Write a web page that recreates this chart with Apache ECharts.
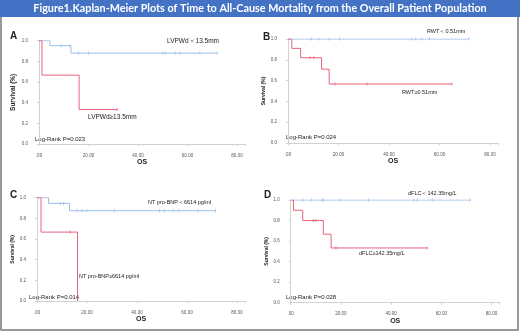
<!DOCTYPE html>
<html>
<head>
<meta charset="utf-8">
<script src="https://cdn.jsdelivr.net/npm/echarts@6/dist/echarts.min.js"></script>
<style>
html, body { margin: 0; padding: 0; background: #fff; }
#main { width: 520px; height: 335px; }
</style>
</head>
<body>
<div id="main"></div>
<script>
// 数据
var titleText = 'Figure1.Kaplan-Meier Plots of Time to All-Cause Mortality from the Overall Patient Population';
var xTicks = [0, 20, 40, 60, 80];
var yTicks = [0, 0.2, 0.4, 0.6, 0.8, 1.0];

// A: LVPWd
var aLowTime = [0, 4.4, 12.9, 72];
var aLowSurv = [1, 0.952, 0.88, 0.88];
var aLowCens = [9, 12.5, 16, 20, 50, 51, 55, 57, 65, 72];
var aHighTime = [0, 1.2, 16.2, 31.6];
var aHighSurv = [1, 0.667, 0.333, 0.333];
var aHighCens = [31.6];

// B: RWT
var bLowTime = [0, 71.7];
var bLowSurv = [1, 1];
var bLowCens = [9.2, 12.2, 16.2, 20.4, 49, 50.6, 53, 56, 71.7];
var bHighTime = [0, 1.5, 5.0, 13.3, 16.3, 64.9];
var bHighSurv = [1, 0.91, 0.82, 0.71, 0.567, 0.567];
var bHighCens = [8.7, 10.2, 18.6, 31.3, 64.9];

// C: NT pro-BNP
var cLowTime = [0, 4.6, 13, 71.4];
var cLowSurv = [1, 0.945, 0.874, 0.874];
var cLowCens = [9.3, 10.6, 16, 18, 20, 31, 49, 51, 54.5, 56.7, 64.4, 71.4];
var cHighTime = [0, 1.6, 16.2];
var cHighSurv = [1, 0.667, 0];
var cHighCens = [13.3];

// D: dFLC
var dLowTime = [0, 71.5];
var dLowSurv = [1, 1];
var dLowCens = [4.8, 8.4, 12.4, 13, 19.7, 31, 49, 50.4, 56.4, 71.5];
var dHighTime = [0, 1.1, 4.8, 13, 16.1, 54.4];
var dHighSurv = [1, 0.9, 0.8, 0.667, 0.533, 0.533];
var dHighCens = [9, 10, 18, 54.4];

var BLUE = '#9cbdea', RED = '#e4647e', AXIS = '#d2d2d2', TXT = '#222';
var FONT = 'Liberation Sans';

// 生存函数查找（删失点的纵坐标）
function survAt(times, surv, t) {
    var s = surv[0];
    for (var i = 0; i < times.length; i++) {
        if (times[i] <= t) s = surv[i];
    }
    return s;
}
function pairs(times, surv) {
    return times.map(function (t, i) { return [t, surv[i]]; });
}
function censPts(times, surv, cens) {
    return cens.map(function (t) { return [t, survAt(times, surv, t)]; });
}

// 四个面板的布局
var panels = [
    { grid: { left: 39, top: 40.7, width: 206, height: 103.3 }, perUnit: 2.475,
      low: [aLowTime, aLowSurv, aLowCens], high: [aHighTime, aHighSurv, aHighCens], nameFont: 6.5 },
    { grid: { left: 288, top: 39, width: 210, height: 104 }, perUnit: 2.525,
      low: [bLowTime, bLowSurv, bLowCens], high: [bHighTime, bHighSurv, bHighCens], nameFont: 5 },
    { grid: { left: 37, top: 197.7, width: 208, height: 103.3 }, perUnit: 2.5,
      low: [cLowTime, cLowSurv, cLowCens], high: [cHighTime, cHighSurv, cHighCens], nameFont: 5 },
    { grid: { left: 290.7, top: 200, width: 209, height: 102.7 }, perUnit: 2.51,
      low: [dLowTime, dLowSurv, dLowCens], high: [dHighTime, dHighSurv, dHighCens], nameFont: 5 }
];

var grids = [], xAxes = [], yAxes = [], series = [];
panels.forEach(function (p, i) {
    grids.push(p.grid);
    xAxes.push({
        gridIndex: i, type: 'value', min: 0, max: p.grid.width / p.perUnit, interval: 20,
        offset: 6,
        name: 'OS', nameLocation: 'middle', nameGap: 9,
        nameTextStyle: { fontFamily: FONT, fontWeight: 'bold', fontSize: 7, color: TXT },
        axisLine: { show: true, lineStyle: { color: AXIS, width: 1 } },
        axisTick: { show: true, length: 2, lineStyle: { color: AXIS } },
        axisLabel: { fontFamily: FONT, fontSize: 4.5, color: '#555', margin: 3,
            formatter: function (v) { return xTicks.indexOf(v) < 0 ? '' : (v === 0 ? '.00' : v.toFixed(2)); } },
        splitLine: { show: false }
    });
    yAxes.push({
        gridIndex: i, type: 'value', min: 0, max: 1, interval: 0.2,
        offset: 8,
        name: 'Survival (%)', nameLocation: 'middle', nameGap: 14,
        nameTextStyle: { fontFamily: FONT, fontWeight: 'bold', fontSize: p.nameFont, color: TXT },
        axisLine: { show: true, lineStyle: { color: AXIS, width: 1 } },
        axisTick: { show: true, length: 2, lineStyle: { color: AXIS } },
        axisLabel: { fontFamily: FONT, fontSize: 4.5, color: '#555', margin: 3,
            formatter: function (v) { return v.toFixed(1); } },
        splitLine: { show: false }
    });
    [['low', BLUE], ['high', RED]].forEach(function (g) {
        var d = p[g[0]];
        series.push({
            type: 'line', xAxisIndex: i, yAxisIndex: i, step: 'end',
            data: pairs(d[0], d[1]), symbol: 'none', silent: true,
            lineStyle: { color: g[1], width: 1 }
        });
        series.push({
            type: 'scatter', xAxisIndex: i, yAxisIndex: i,
            data: censPts(d[0], d[1], d[2]), symbol: 'rect', symbolSize: [1, 3],
            itemStyle: { color: g[1] }, silent: true
        });
    });
});

// 文字标注
function txt(x, y, s, size, bold) {
    return { type: 'text', left: x, top: y - size * 0.6, silent: true,
        style: { text: s, fontFamily: FONT, fontSize: size, fontWeight: bold ? 'bold' : 'normal', fill: TXT } };
}
var graphics = [
    { type: 'rect', shape: { x: 1, y: 0, width: 517, height: 330 }, silent: true,
      style: { fill: 'none', stroke: '#7a7a7a', lineWidth: 1.5 } },
    { type: 'rect', shape: { x: 0, y: 0, width: 520, height: 17 }, silent: true,
      style: { fill: '#4472c4' } },
    { type: 'text', x: 260, y: 8.5, silent: true,
      style: { text: titleText, fontFamily: 'Lato', fontWeight: 'bold', fontSize: 10.8, fill: '#fff',
               align: 'center', verticalAlign: 'middle' } },
    txt(10, 37, 'A', 10, true), txt(263, 38, 'B', 10, true),
    txt(10, 196, 'C', 10, true), txt(264, 196, 'D', 10, true),
    txt(167, 42, 'LVPWd\uFF1C13.5mm', 6.5), txt(88, 118, 'LVPWd\u226513.5mm', 6.5),
    txt(35, 140, 'Log-Rank P=0.023', 6),
    txt(427, 32, 'RWT\uFF1C0.51mm', 5.5), txt(402, 93, 'RWT\u22650.51mm', 5.5),
    txt(286, 138, 'Log-Rank P=0.024', 6),
    txt(148, 203, 'NT pro-BNP\uFF1C6614 pg/ml', 5.5), txt(79, 277, 'NT pro-BNP\u22656614 pg/ml', 5.5),
    txt(29, 298, 'Log-Rank P=0.014', 6),
    txt(408, 194, 'dFLC\uFF1C142.35mg/L', 5.5), txt(359, 254, 'dFLC\u2265142.35mg/L', 5.5),
    txt(286, 298, 'Log-Rank P=0.028', 6)
];

var chart = echarts.init(document.getElementById('main'), null, { renderer: 'canvas' });
chart.setOption({
    animation: false,
    backgroundColor: '#fff',
    grid: grids, xAxis: xAxes, yAxis: yAxes, series: series,
    graphic: graphics
});
</script>
</body>
</html>
